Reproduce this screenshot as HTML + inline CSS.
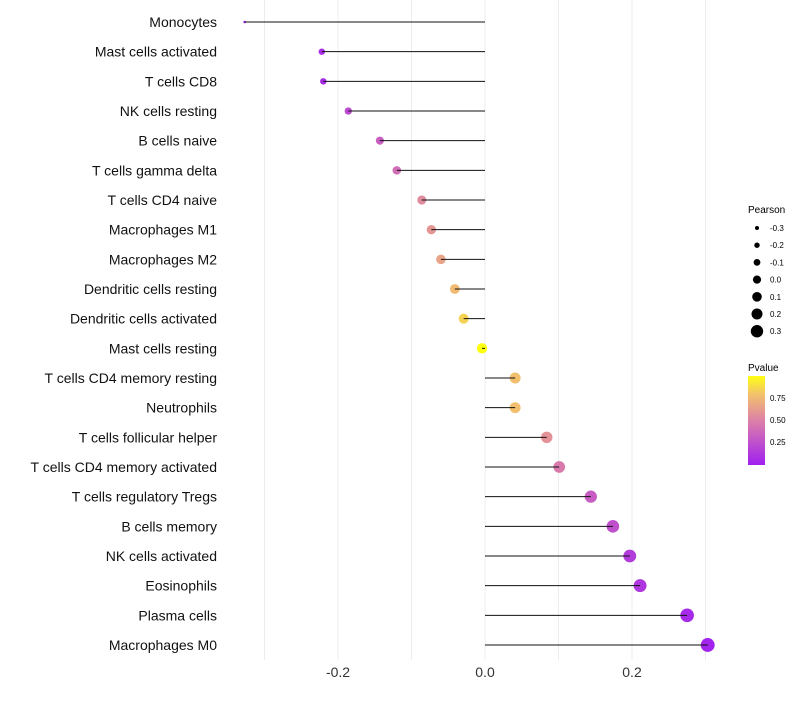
<!DOCTYPE html>
<html><head><meta charset="utf-8"><style>
body{margin:0;background:#fff;font-family:"Liberation Sans",sans-serif}
</style></head><body>
<svg id="c" width="800" height="700" xmlns="http://www.w3.org/2000/svg" font-family="Liberation Sans, sans-serif">
<defs><linearGradient id="pg" x1="0" y1="1" x2="0" y2="0">
<stop offset="0" stop-color="#a020f0"/><stop offset="0.5" stop-color="#dd80a8"/><stop offset="0.8" stop-color="#f3c36a"/><stop offset="1" stop-color="#ffff10"/></linearGradient></defs>
<g id="grid"></g>
<g id="dots"></g>
<g id="marks"></g>
<g id="labels"></g>
<g id="leg">
<text x="748" y="213" font-size="10">Pearson</text>
</g>
<g>
<text x="748" y="371" font-size="10">Pvalue</text>
<rect x="748" y="376" width="17" height="89" fill="url(#pg)"/>
<text x="770" y="401" font-size="8">0.75</text>
<text x="770" y="423" font-size="8">0.50</text>
<text x="770" y="445" font-size="8">0.25</text>
</g>
</svg>
<script>
const categories=["Monocytes","Mast cells activated","T cells CD8","NK cells resting","B cells naive","T cells gamma delta","T cells CD4 naive","Macrophages M1","Macrophages M2","Dendritic cells resting","Dendritic cells activated","Mast cells resting","T cells CD4 memory resting","Neutrophils","T cells follicular helper","T cells CD4 memory activated","T cells regulatory  Tregs ","B cells memory","NK cells activated","Eosinophils","Plasma cells","Macrophages M0"];
const pearson=[-0.327,-0.222,-0.220,-0.186,-0.143,-0.120,-0.086,-0.073,-0.060,-0.041,-0.029,-0.004,0.041,0.041,0.084,0.101,0.144,0.174,0.197,0.211,0.275,0.303];
const pvalue=[0.02,0.08,0.06,0.22,0.33,0.4,0.55,0.6,0.66,0.76,0.85,1.0,0.78,0.78,0.58,0.47,0.32,0.25,0.15,0.12,0.05,0.02];
const xTicks=[-0.2,0,0.2];
const xMinor=[-0.3,-0.1,0.1,0.3];
const legendVals=[-0.3,-0.2,-0.1,0.0,0.1,0.2,0.3];
const ns="http://www.w3.org/2000/svg";
const X=v=>485+v*735;
const Y=i=>22+i*(623/(categories.length-1));
const R=v=>Math.max(1.3,0.6+8*Math.sqrt(Math.max(0,v+0.33)));
function lerp(a,b,t){return a.map((x,i)=>Math.round(x+(b[i]-x)*t));}
function col(p){const s=[[0,[160,32,240]],[0.5,[221,128,168]],[0.8,[243,195,106]],[1,[255,255,16]]];
for(let k=1;k<s.length;k++){if(p<=s[k][0]){const t=(p-s[k-1][0])/(s[k][0]-s[k-1][0]);const c=lerp(s[k-1][1],s[k][1],t);return`rgb(${c})`;}}return'rgb(255,255,16)';}
function mk(tag,at,parent){const e=document.createElementNS(ns,tag);for(const k in at)e.setAttribute(k,at[k]);document.getElementById(parent).appendChild(e);return e;}
xMinor.concat(xTicks).forEach(v=>{const l=mk('line',{x1:X(v),x2:X(v),y1:0,y2:660,stroke:'#ececec','stroke-width':1},'grid');

});
xTicks.forEach(v=>{const t=mk('text',{x:X(v),y:677,'font-size':14,'text-anchor':'middle',fill:'#333'},'labels');t.textContent=v===0?'0.0':v.toFixed(1);

});
categories.forEach((c,i)=>{const t=mk('text',{x:217,y:Y(i)+5,'font-size':14,'text-anchor':'end',fill:'#111'},'labels');t.textContent=c;


const d=mk('circle',{cx:X(pearson[i]),cy:Y(i),r:R(pearson[i]),fill:col(pvalue[i])},'dots');


const l=mk('line',{x1:X(0),x2:X(pearson[i]),y1:Y(i),y2:Y(i),stroke:'#111','stroke-width':1},'marks');

});
legendVals.forEach((v,i)=>{const y=228+i*17.2;const d=mk('circle',{cx:757,cy:y,r:2+i*0.7,fill:'#000'},'leg');


const t=mk('text',{x:770,y:y+3,'font-size':8},'leg');t.textContent=v.toFixed(1);

});
</script>
</body></html>
